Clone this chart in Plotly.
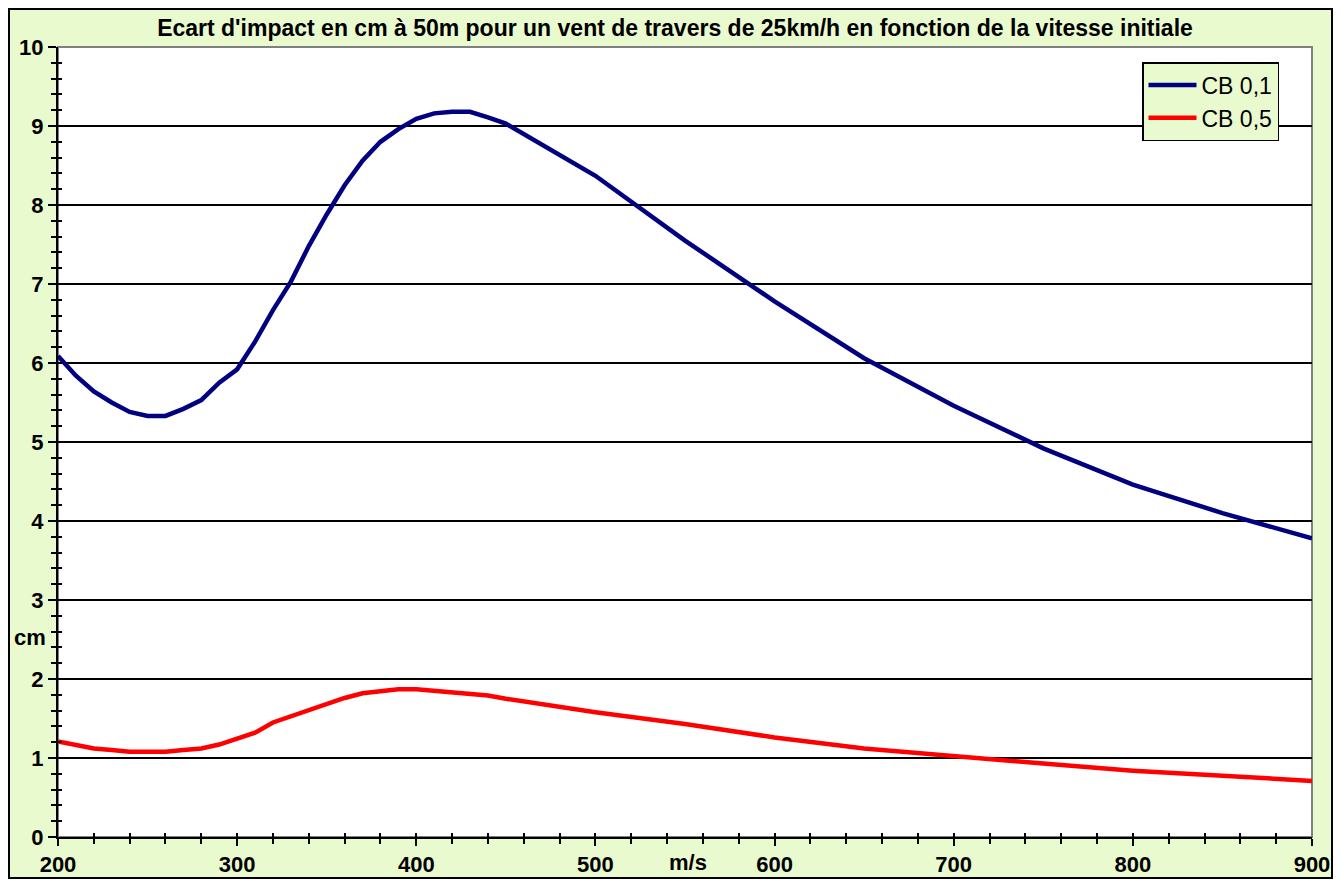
"""Wind drift at 50 m versus muzzle velocity, two ballistic coefficients."""

import plotly.graph_objects as go

# m/s
velocity = [200, 210, 220, 230, 240, 250, 260, 270, 280, 290, 300, 310, 320, 330,
            340, 350, 360, 370, 380, 390, 400, 410, 420, 430, 440, 450,
            500, 550, 600, 650, 700, 750, 800, 850, 900]

# cm, CB 0,1
drift_cb01 = [6.09, 5.84, 5.64, 5.50, 5.38, 5.33, 5.33, 5.42, 5.53, 5.75, 5.92, 6.27, 6.67, 7.03,
              7.48, 7.88, 8.25, 8.56, 8.80, 8.96, 9.09, 9.16, 9.18, 9.18, 9.11, 9.03,
              8.37, 7.55, 6.78, 6.06, 5.46, 4.92, 4.46, 4.10, 3.78]

# cm, CB 0,5
drift_cb05 = [1.21, 1.16, 1.12, 1.10, 1.08, 1.08, 1.08, 1.10, 1.12, 1.17, 1.24, 1.32, 1.45, 1.53,
              1.61, 1.69, 1.76, 1.82, 1.85, 1.87, 1.87, 1.85, 1.84, 1.81, 1.79, 1.75,
              1.58, 1.43, 1.26, 1.12, 1.02, 0.93, 0.84, 0.77, 0.71]

series_names = ["CB 0,1", "CB 0,5"]
series_colors = ["#000080", "#FF0000"]

TITLE = "Ecart d'impact en cm à 50m pour un vent de travers de 25km/h en fonction de la vitesse initiale"
FONT = "Arial, Liberation Sans, sans-serif"
BG_GREEN = "#E9FACF"

# the page body adds an 8px margin, so the figure is laid out 8px smaller
FIG_W, FIG_H = 1325, 871
MARGIN = dict(l=50, r=21, t=39, b=42)
PLOT_W = FIG_W - MARGIN["l"] - MARGIN["r"]
PLOT_H = FIG_H - MARGIN["t"] - MARGIN["b"]

fig = go.Figure()

for name, values, color, group in zip(series_names, [drift_cb01, drift_cb05], series_colors, ["a", "b"]):
    fig.add_trace(go.Scatter(
        x=velocity, y=values, name=name, mode="lines",
        line=dict(color=color, width=4.5),
        legendgroup=group,
    ))

# dummy trace so the overlay axes (inner half of the crossing ticks) get drawn
fig.add_trace(go.Scatter(x=[None], y=[None], xaxis="x2", yaxis="y2",
                         showlegend=False, hoverinfo="skip"))

tick_font = dict(family=FONT, size=22, color="black", weight="bold")

# chart-area frame edges in paper coordinates (1px inset)
frame_x0 = (1 - MARGIN["l"]) / PLOT_W
frame_x1 = (FIG_W - 1 - MARGIN["l"]) / PLOT_W
frame_y1 = (PLOT_H + MARGIN["t"] - 1) / PLOT_H
frame_y0 = -(MARGIN["b"] - 1) / PLOT_H

fig.update_layout(
    width=FIG_W,
    height=FIG_H,
    autosize=False,
    margin=dict(MARGIN, autoexpand=False),
    paper_bgcolor="white",
    plot_bgcolor="white",
    title=dict(
        text=TITLE, x=667 / FIG_W, xref="container", xanchor="center",
        y=1 - 20 / FIG_H, yref="container", yanchor="middle",
        font=dict(family=FONT, size=23, color="black", weight="bold"),
        automargin=False,
    ),
    xaxis=dict(
        range=[200, 900], dtick=100, tick0=200, automargin=False,
        showgrid=False, zeroline=False,
        showline=True, linecolor="black", linewidth=2,
        ticks="outside", ticklen=7, tickwidth=2, tickcolor="black",
        minor=dict(dtick=20, ticks="outside", ticklen=5, tickwidth=2, tickcolor="black", showgrid=False),
        tickfont=tick_font,
    ),
    xaxis2=dict(
        range=[200, 900], dtick=100, tick0=200, overlaying="x", anchor="y", automargin=False,
        showgrid=False, zeroline=False, showticklabels=False,
        ticks="inside", ticklen=4, tickwidth=2, tickcolor="black",
        minor=dict(dtick=20, ticks="inside", ticklen=4, tickwidth=2, tickcolor="black", showgrid=False),
    ),
    yaxis=dict(
        range=[0, 10], dtick=1, tick0=0, automargin=False,
        showgrid=True, gridcolor="black", gridwidth=2, zeroline=False,
        showline=True, linecolor="black", linewidth=2,
        ticks="outside", ticklen=8, tickwidth=2, tickcolor="black",
        minor=dict(dtick=0.2, ticks="outside", ticklen=5, tickwidth=2, tickcolor="black", showgrid=False),
        tickfont=tick_font,
    ),
    yaxis2=dict(
        range=[0, 10], dtick=1, tick0=0, overlaying="y", anchor="x", automargin=False,
        showgrid=False, zeroline=False, showticklabels=False,
        ticks="inside", ticklen=4, tickwidth=2, tickcolor="black",
        minor=dict(dtick=0.2, ticks="inside", ticklen=4, tickwidth=2, tickcolor="black", showgrid=False),
    ),
    legend=dict(
        x=(1134 - MARGIN["l"]) / PLOT_W, y=(829 - 54) / PLOT_H, xanchor="left", yanchor="top",
        bgcolor=BG_GREEN, bordercolor="black", borderwidth=1.5,
        font=dict(family=FONT, size=23, color="black"),
        tracegroupgap=0, traceorder="grouped", itemwidth=48,
    ),
    showlegend=True,
    shapes=[
        # chart area frame
        dict(type="rect", xref="paper", yref="paper", x0=frame_x0, x1=frame_x1, y0=frame_y0, y1=frame_y1,
             fillcolor=BG_GREEN, line=dict(color="black", width=2), layer="below"),
        # plot area
        dict(type="rect", xref="paper", yref="paper", x0=0, x1=1, y0=0, y1=1,
             fillcolor="white", line=dict(color="#808080", width=2), layer="below"),
    ],
    annotations=[
        dict(text="cm", xref="paper", yref="paper", x=-0.022, y=0.253, showarrow=False,
             xanchor="center", yanchor="middle", font=dict(family=FONT, size=22, color="black", weight="bold")),
        dict(text="m/s", xref="paper", yref="paper", x=0.502, y=-0.032, showarrow=False,
             xanchor="center", yanchor="middle", font=dict(family=FONT, size=22, color="black", weight="bold")),
    ],
)

fig.write_html("out.html")
